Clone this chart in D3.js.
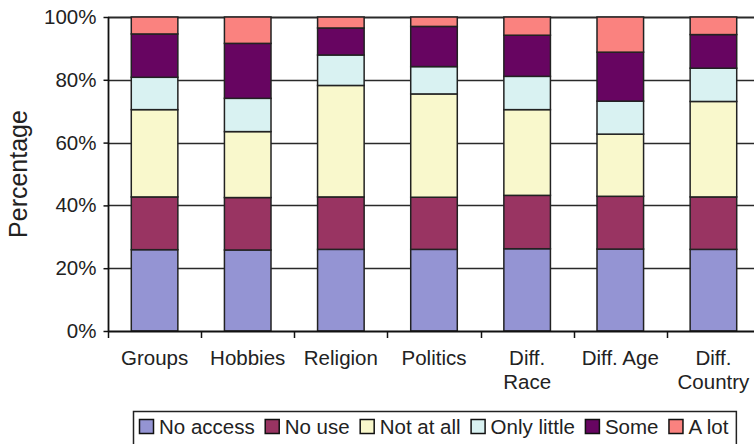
<!DOCTYPE html>
<html>
<head>
<meta charset="utf-8">
<script src="https://cdn.jsdelivr.net/npm/d3@7"></script>
<style>
  html, body { margin: 0; padding: 0; background: #fff; }
  svg { display: block; font-family: "Liberation Sans", Arial, Helvetica, sans-serif; }
</style>
</head>
<body>
<svg id="chart" width="754" height="444"></svg>
<script>
// ---- data ----
const categories = ["Groups", "Hobbies", "Religion", "Politics", "Diff. Race", "Diff. Age", "Diff. Country"];
const categoryLabelLines = [["Groups"], ["Hobbies"], ["Religion"], ["Politics"], ["Diff.", "Race"], ["Diff. Age"], ["Diff.", "Country"]];
const seriesNames = ["No access", "No use", "Not at all", "Only little", "Some", "A lot"];
const seriesColors = ["#9494d3", "#993462", "#f9f8cc", "#d9f2f2", "#670561", "#fa827f"];
// percentages per category, one array per series
const noAccess   = [25.9, 25.8, 26.0, 26.0, 26.2, 26.1, 26.0];
const noUse      = [16.8, 16.7, 16.7, 16.6, 17.0, 16.8, 16.7];
const notAtAll   = [27.8, 21.0, 35.5, 32.9, 27.3, 19.8, 30.4];
const onlyLittle = [10.3, 10.6,  9.7,  8.7, 10.6, 10.5, 10.6];
const some       = [13.8, 17.5,  8.6, 12.8, 13.1, 15.6, 10.7];
const aLot       = [ 5.4,  8.4,  3.5,  3.0,  5.8, 11.2,  5.6];
const yTicks = [0, 0.2, 0.4, 0.6, 0.8, 1.0];
const yLabel = "Percentage";

// ---- build table ----
const seriesValues = [noAccess, noUse, notAtAll, onlyLittle, some, aLot];
const table = categories.map((c, i) => {
  const row = { category: c };
  const total = seriesValues.reduce((s, arr) => s + arr[i], 0);
  seriesNames.forEach((n, k) => { row[n] = seriesValues[k][i] / total; });
  return row;
});
const stacked = d3.stack().keys(seriesNames)(table);

// ---- layout ----
const svg = d3.select("#chart");
const pLeft = 108, pRight = 760, pTop = 17, pBottom = 331;
const fs = 20.5;

const x = d3.scaleBand().domain(categories).range([pLeft, pRight])
  .paddingInner(0.5).paddingOuter(0.25);
const y = d3.scaleLinear().domain([0, 1]).range([pBottom, pTop]);
const color = d3.scaleOrdinal().domain(seriesNames).range(seriesColors);

// gridlines
svg.append("g").selectAll("line").data(yTicks.filter(t => t > 0)).join("line")
  .attr("x1", pLeft).attr("x2", 754)
  .attr("y1", d => Math.round(y(d)) + 0.5).attr("y2", d => Math.round(y(d)) + 0.5)
  .attr("stroke", "#2a2a2a").attr("stroke-width", d => d === 1 ? 1.8 : 1.3);

// bars
svg.append("g").selectAll("g").data(stacked).join("g")
  .attr("fill", d => color(d.key))
  .selectAll("rect").data(d => d).join("rect")
  .attr("x", d => x(d.data.category))
  .attr("width", x.bandwidth())
  .attr("y", d => y(d[1]))
  .attr("height", d => y(d[0]) - y(d[1]))
  .attr("stroke", "#222").attr("stroke-width", 1.5);

// y axis
const yAxis = svg.append("g").attr("transform", `translate(${pLeft + 0.5},0)`)
  .call(d3.axisLeft(y).tickValues(yTicks).tickFormat(d3.format(".0%")).tickSize(5).tickPadding(7));
yAxis.select(".domain").attr("stroke", "#111").attr("stroke-width", 1.8).attr("d", `M0,${pTop}V${pBottom}`);
yAxis.selectAll(".tick line").attr("stroke", "#111").attr("stroke-width", 1.5);
yAxis.selectAll(".tick text").attr("font-size", fs).attr("fill", "#222")
  .attr("font-family", "'Liberation Sans', Arial, sans-serif");

// x axis line
svg.append("line").attr("x1", pLeft).attr("x2", 754)
  .attr("y1", pBottom + 0.5).attr("y2", pBottom + 0.5)
  .attr("stroke", "#111").attr("stroke-width", 1.8);
// x tick marks at band boundaries
svg.append("g").selectAll("line").data(d3.range(categories.length + 1)).join("line")
  .attr("x1", i => Math.round(pLeft + i * x.step()) + 0.5)
  .attr("x2", i => Math.round(pLeft + i * x.step()) + 0.5)
  .attr("y1", pBottom).attr("y2", pBottom + 7)
  .attr("stroke", "#111").attr("stroke-width", 1.5);

// x labels
const xl = svg.append("g");
categories.forEach((c, ci) => {
  const cxp = x(c) + x.bandwidth() / 2;
  const t = xl.append("text").attr("x", cxp).attr("y", 365)
    .attr("text-anchor", "middle").attr("font-size", fs).attr("fill", "#222");
  categoryLabelLines[ci].forEach((w, i) => {
    t.append("tspan").attr("x", cxp).attr("dy", i === 0 ? 0 : 24).text(w);
  });
});

// y label
svg.append("text").attr("transform", "translate(27,174) rotate(-90)")
  .attr("text-anchor", "middle").attr("font-size", 25).attr("fill", "#222").text(yLabel);

// legend
const lg = svg.append("g");
const box = lg.append("rect").attr("x", 133.5).attr("y", 411.5)
  .attr("height", 45).attr("fill", "#fff").attr("stroke", "#222").attr("stroke-width", 1.5);
let cx = 139;
seriesNames.forEach(n => {
  lg.append("rect").attr("x", cx + 0.5).attr("y", 419.5).attr("width", 14).attr("height", 14)
    .attr("fill", color(n)).attr("stroke", "#111").attr("stroke-width", 1.5);
  const t = lg.append("text").attr("x", cx + 20).attr("y", 433.5)
    .attr("font-size", fs).attr("fill", "#222").text(n);
  cx += 20 + t.node().getComputedTextLength() + 10;
});
box.attr("width", cx - 2 - 133.5);
</script>
</body>
</html>
